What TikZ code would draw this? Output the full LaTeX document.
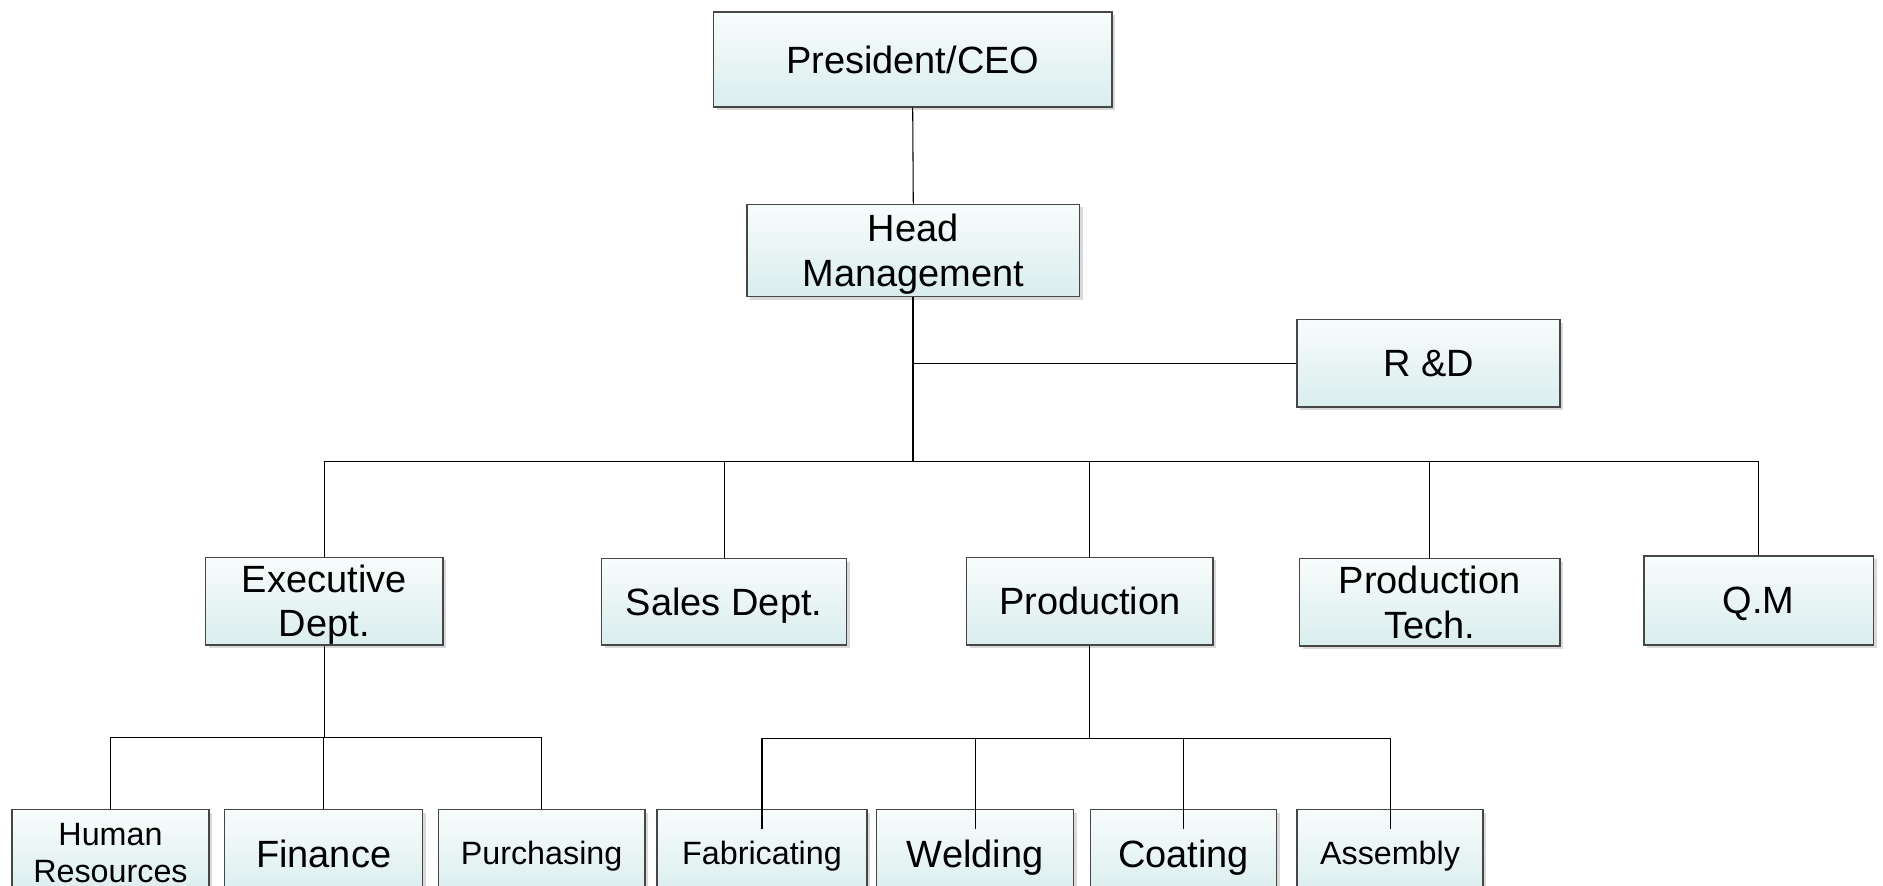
\documentclass[tikz,border=0pt]{standalone}
\usepackage{fontspec}
\setmainfont{Liberation Sans}
\usepackage{tikz}
\usetikzlibrary{calc, shadows}

\definecolor{boxtop}{RGB}{248,252,252}
\definecolor{boxbot}{RGB}{218,237,237}
\definecolor{boxline}{RGB}{70,70,70}

\tikzset{
    unit/.style={draw=boxline, line width=0.6pt, top color=boxtop, bottom color=boxbot,
        drop shadow={shadow xshift=1.5pt, shadow yshift=-1.5pt, opacity=0.3},
        inner sep=0pt, text depth=0pt, align=center, font=\fontsize{18}{21}\selectfont},
    small/.style={font=\fontsize{15.3}{17.6}\selectfont},
    link/.style={line width=0.5pt},
    trunk/.style={line width=1pt}
}

\begin{document}
\begin{tikzpicture}[x=0.02cm, y=-0.02cm]
                    \useasboundingbox (0, 0) rectangle (1568, 737);
                    \clip (0, 0) rectangle (1568, 737);

                    \node[unit, minimum width=6.64cm, minimum height=1.58cm] (ceo) at (760, 49.5) {President/CEO};
                    \node[unit, minimum width=5.54cm, minimum height=1.54cm] (head) at (760.5, 208.5) {Head\\Management};
                    \node[unit, minimum width=4.38cm, minimum height=1.46cm] (rd) at (1189.5, 302.5) {R \&D};

                    \node[unit, minimum width=3.96cm, minimum height=1.46cm] (exec) at (270, 500.5) {Executive\\Dept.};
                    \node[unit, minimum width=4.08cm, minimum height=1.44cm] (sales) at (603, 501) {Sales Dept.};
                    \node[unit, minimum width=4.10cm, minimum height=1.46cm] (prod) at (907.5, 500.5) {Production};
                    \node[unit, minimum width=4.34cm, minimum height=1.46cm] (ptech) at (1190.5, 501.5) {Production\\Tech.};
                    \node[unit, minimum width=3.82cm, minimum height=1.48cm] (qm) at (1464.5, 500) {Q.M};

                    \node[unit, small, minimum width=3.28cm, minimum height=1.46cm] (hr) at (92, 710.5) {Human\\Resources};
                    \node[unit, minimum width=3.30cm, minimum height=1.46cm] (fin) at (269.5, 710.5) {Finance};
                    \node[unit, small, minimum width=3.44cm, minimum height=1.46cm] (pur) at (451, 710.5) {Purchasing};
                    \node[unit, small, minimum width=3.50cm, minimum height=1.46cm] (fab) at (634.5, 710.5) {Fabricating};
                    \node[unit, minimum width=3.28cm, minimum height=1.46cm] (weld) at (812, 710.5) {Welding};
                    \node[unit, minimum width=3.10cm, minimum height=1.46cm] (coat) at (985.5, 710.5) {Coating};
                    \node[unit, small, minimum width=3.10cm, minimum height=1.46cm] (asm) at (1157.5, 710.5) {Assembly};

                    \coordinate (bus) at (760.5, 384);
                    \coordinate (ebus) at (270, 614);
                    \coordinate (pbus) at (907.5, 615);

                    \draw[link] (ceo.south) -- (head.north);
                    \draw[trunk] (head.south) -- (bus);
                    \draw[link] (head.south |- rd.west) -- (rd.west);
                    \foreach \n in {exec, sales, prod, ptech, qm}
                        \draw[link] (bus) -| (\n.north);

                    \draw[link] (exec.south) -- (ebus);
                    \foreach \n in {hr, fin, pur}
                        \draw[link] (ebus) -| (\n.north);

                    \draw[link] (prod.south) -- (pbus);
                    \foreach \n in {fab, weld, coat, asm}
                        \draw[link] (pbus) -| ($(\n.north) + (0, 17)$);
                \end{tikzpicture}
\end{document}
